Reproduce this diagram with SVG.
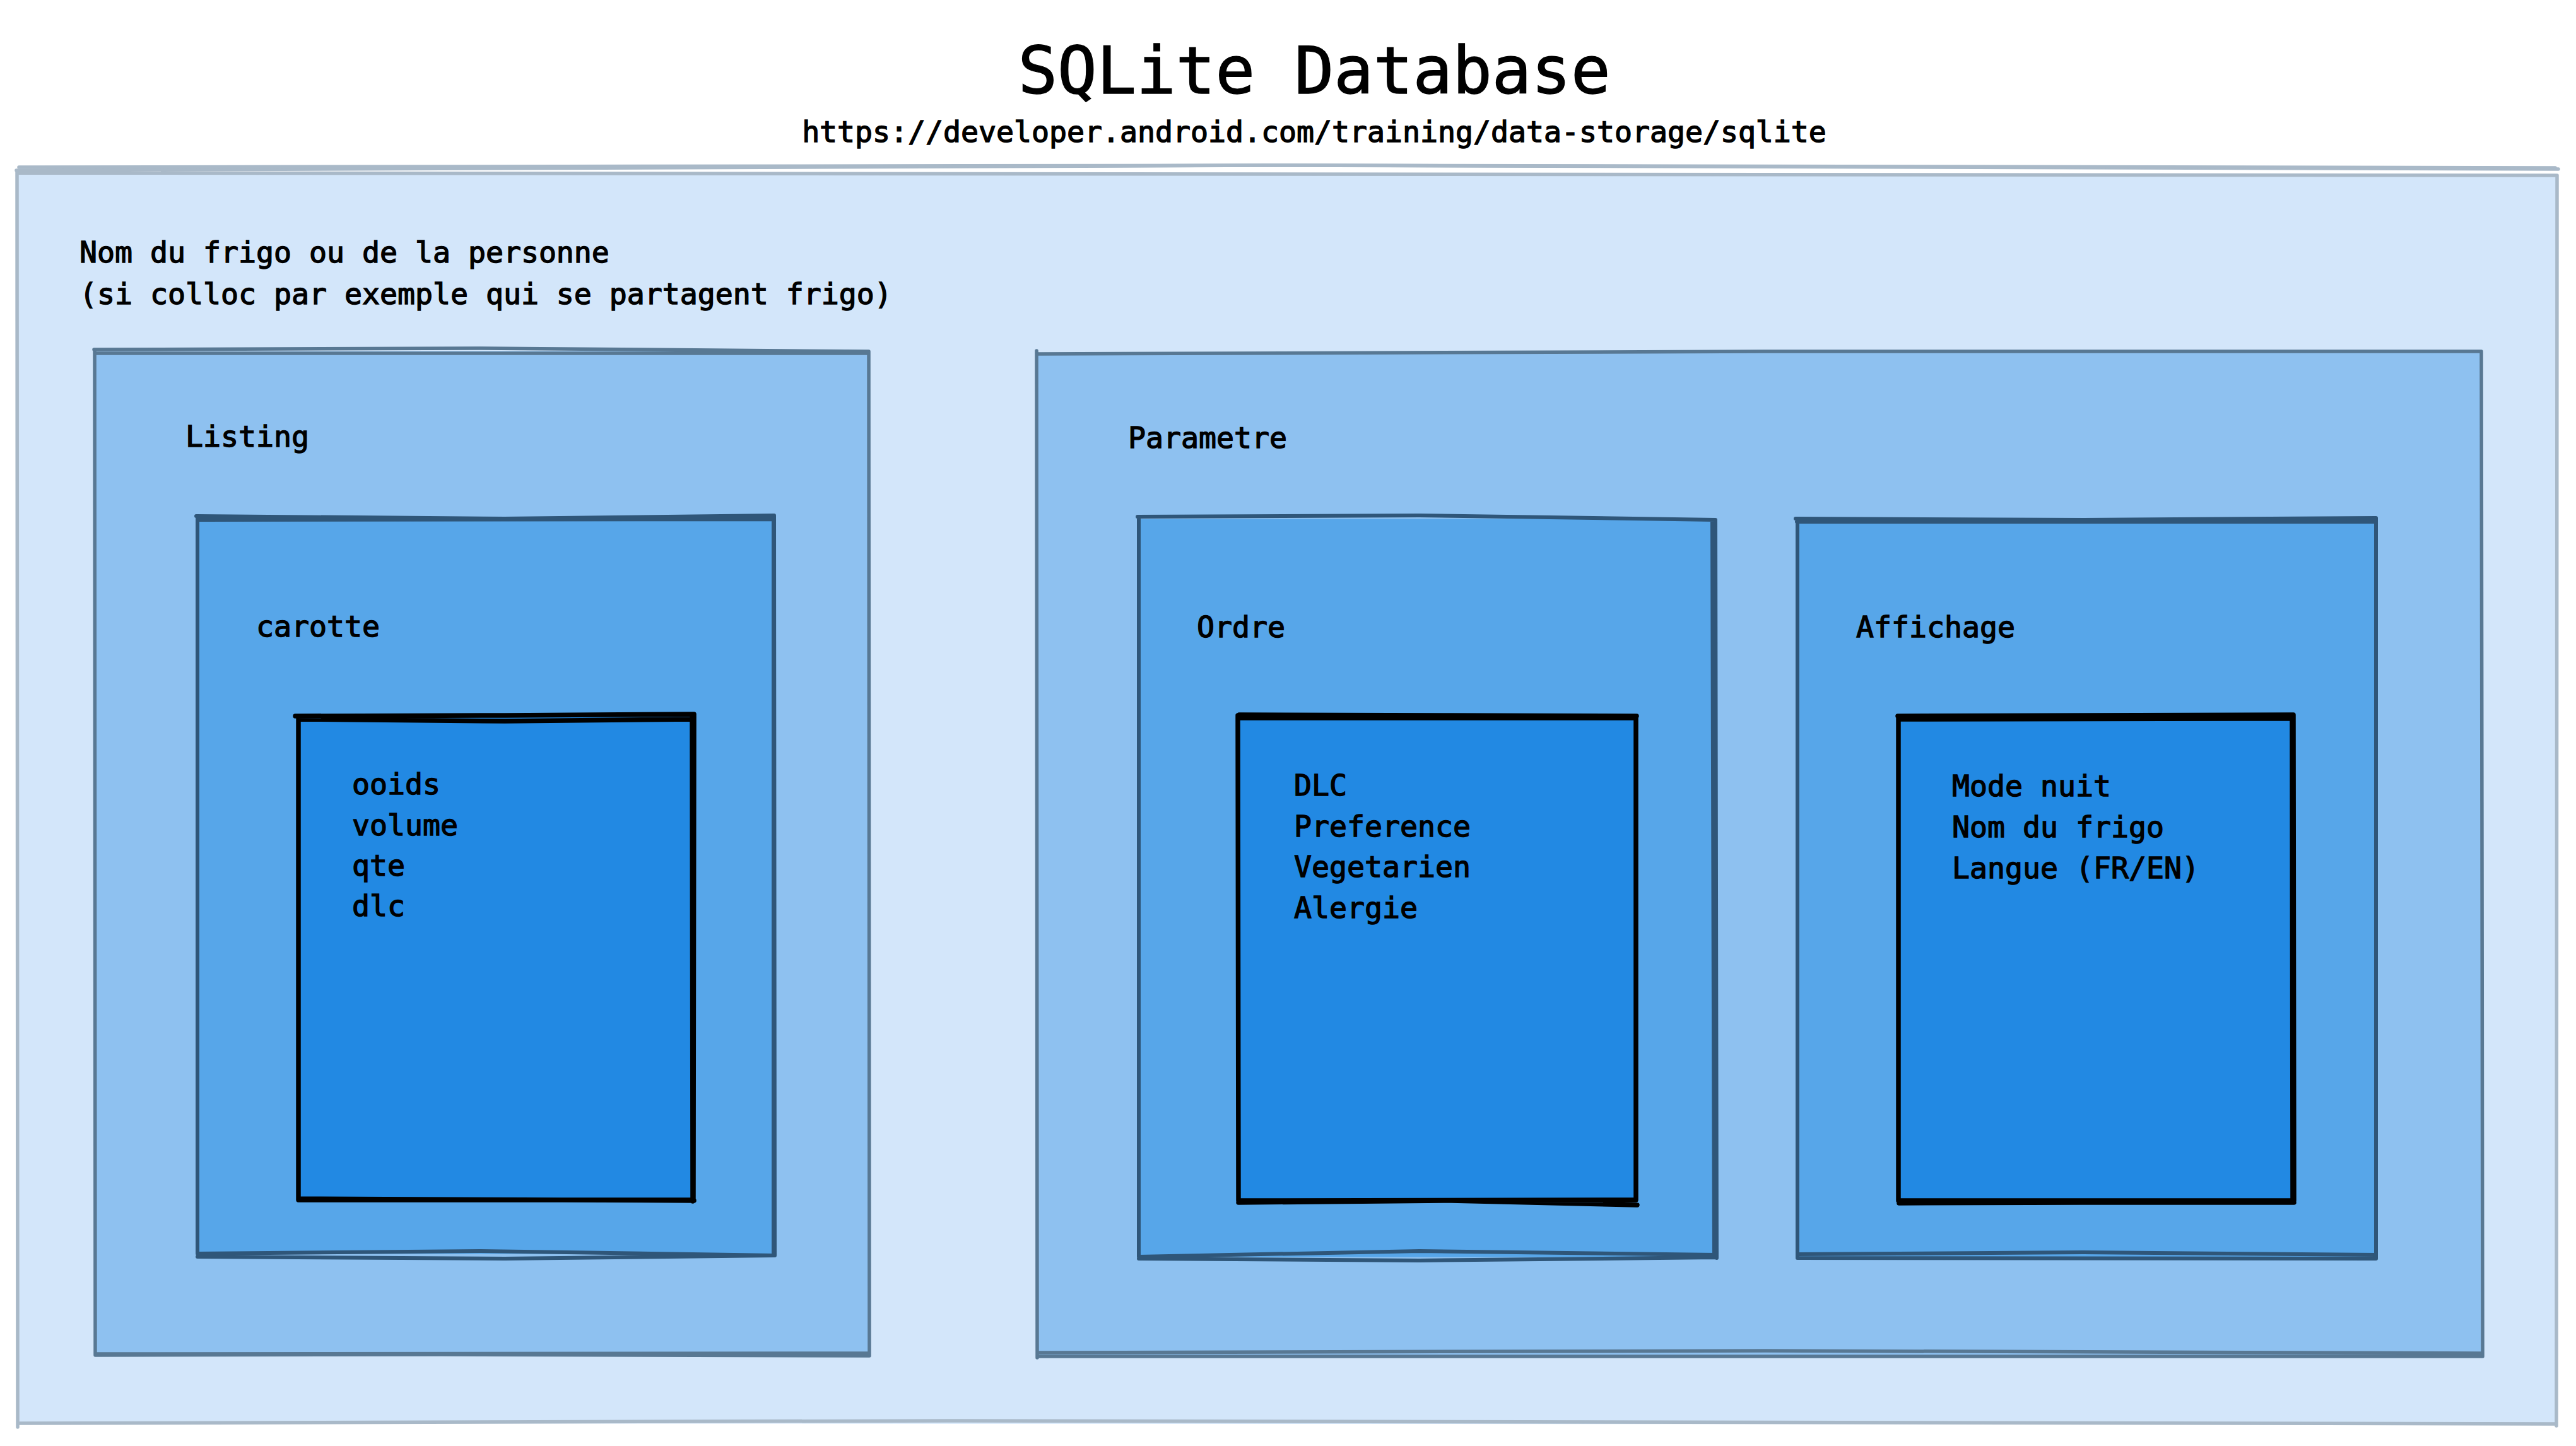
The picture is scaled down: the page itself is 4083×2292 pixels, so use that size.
<svg xmlns="http://www.w3.org/2000/svg" width="4083" height="2292" viewBox="0 0 4083 2292">
<style>
.t{font-family:"DejaVu Sans Mono","Liberation Mono",monospace;fill:#000;stroke:#000;stroke-width:1.4;paint-order:stroke}
.b{font-size:46.5px}
.s{fill:none;stroke-linecap:round;stroke-linejoin:round}
.l0 .f{fill:#d3e6fa}.l0 .s{stroke:#a9b9c8;stroke-width:5.5}
.l1 .f{fill:#8ec1f0}.l1 .s{stroke:#587893;stroke-width:5.5}
.l2 .f{fill:#57a6e9}.l2 .s{stroke:#2f5679;stroke-width:6}
.l3 .f{fill:#2289e3}.l3 .s{stroke:#000;stroke-width:7.5}
</style>
<rect width="4083" height="2292" fill="#fff"/>
<g id="title">
<text class="t" x="2083" y="148" font-size="104" stroke-width="2" text-anchor="middle">SQLite Database</text>
<text class="t b" x="2083" y="225" text-anchor="middle">https://developer.android.com/training/data-storage/sqlite</text>
</g>
<g id="frigo" class="l0">
<path class="f" d="M28,272 L4052,276 L4054,2258 L29,2256 Z"/>
<path class="s" d="M26,270 L2000,262 L4055,268 M28,274 L4053,278 L4052,2260 M4050,2257 L1500,2252 L30,2256 M28,2262 L27,272"/>
<path class="s" stroke="#cfcfcf" d="M30,265 L2100,262 L4050,266"/>
<text class="t b" x="126" y="416">Nom du frigo ou de la personne</text>
<text class="t b" x="126" y="482">(si colloc par exemple qui se partagent frigo)</text>
</g>
<g id="listing" class="l1">
<path class="f" d="M151,557 L1377,556 L1378,2148 L152,2147 Z"/>
<path class="s" d="M149,554 L760,552 L1377,557 L1378,2149 L700,2147 L151,2148 L150,556 M151,560 L1376,560 M152,2146 L1378,2145"/>
<text class="t b" x="294" y="708">Listing</text>
</g>
<g id="carotte" class="l2">
<path class="f" d="M313,821 L1227,820 L1228,1988 L314,1987 Z"/>
<path class="s" d="M311,818 L800,822 L1227,817 L1228,1990 L760,1983 L313,1987 L313,820 M313,824 L1226,823 L1226,1988 M313,1992 L800,1995 L1228,1990"/>
<text class="t b" x="406" y="1009">carotte</text>
</g>
<g id="carotte-champs" class="l3">
<path class="f" d="M472,1136 L1100,1135 L1100,1902 L473,1901 Z"/>
<path class="s" d="M468,1135 L800,1134 L1100,1132 L1099,1902 L473,1902 L473,1136 M473,1140 L800,1143 L1100,1140 M1097,1137 L1098,1904 M473,1900 L1100,1903"/>
<text class="t b" x="558" y="1259">ooids</text>
<text class="t b" x="558" y="1324">volume</text>
<text class="t b" x="558" y="1388">qte</text>
<text class="t b" x="558" y="1452">dlc</text>
</g>
<g id="parametre" class="l1">
<path class="f" d="M1644,559 L3934,557 L3935,2150 L1645,2150 Z"/>
<path class="s" d="M1643,556 L1644,2152 M1646,561 L2800,557 L3933,557 L3935,2149 M3934,2145 L2800,2141 L1645,2144 M1644,2150 L3935,2150"/>
<text class="t b" x="1788" y="710">Parametre</text>
</g>
<g id="ordre" class="l2">
<path class="f" d="M1805,823 L2719,822 L2720,1993 L1806,1992 Z"/>
<path class="s" d="M1803,819 L2250,817 L2719,824 L2721,1994 M1805,823 L1805,1992 L2250,1983 L2719,1989 M1805,1995 L2250,1998 L2719,1993 M2714,824 L2717,1990"/>
<text class="t b" x="1897" y="1010">Ordre</text>
</g>
<g id="ordre-champs" class="l3">
<path class="f" d="M1963,1138 L2593,1138 L2593,1903 L1963,1902 Z"/>
<path class="s" d="M1962,1134 L1963,1903 L2593,1902 L2593,1138 L1964,1138 M1964,1133 L2300,1134 L2594,1135 M1963,1906 L2300,1903 L2595,1910"/>
<text class="t b" x="2051" y="1261">DLC</text>
<text class="t b" x="2051" y="1326">Preference</text>
<text class="t b" x="2051" y="1390">Vegetarien</text>
<text class="t b" x="2051" y="1455">Alergie</text>
</g>
<g id="affichage" class="l2">
<path class="f" d="M2848,826 L3766,825 L3766,1993 L2849,1992 Z"/>
<path class="s" d="M2846,822 L3300,824 L3766,821 L3766,1995 L2849,1994 L2849,825 M2848,827 L3765,827 M2849,1988 L3300,1985 L3766,1989"/>
<text class="t b" x="2942" y="1010">Affichage</text>
</g>
<g id="affichage-champs" class="l3">
<path class="f" d="M3009,1137 L3635,1136 L3636,1903 L3009,1903 Z"/>
<path class="s" d="M3008,1135 L3300,1134 L3635,1133 L3636,1903 L3009,1903 L3009,1137 M3009,1140 L3634,1139 M3633,1136 L3634,1902 M3010,1907 L3300,1906 L3636,1906"/>
<text class="t b" x="3094" y="1262">Mode nuit</text>
<text class="t b" x="3094" y="1327">Nom du frigo</text>
<text class="t b" x="3094" y="1392">Langue (FR/EN)</text>
</g>
<g id="connectors"/>
</svg>
